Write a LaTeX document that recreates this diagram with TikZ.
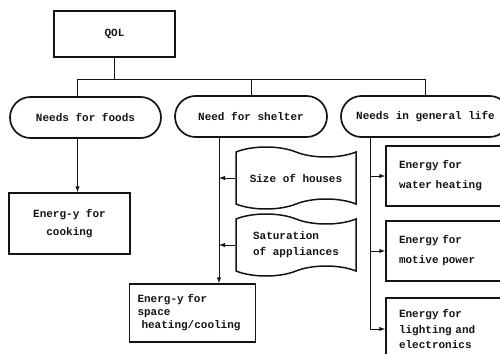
\documentclass[tikz,border=0pt]{standalone}
\usepackage{fontspec}
\setmonofont{Liberation Mono}
\usetikzlibrary{arrows.meta,shapes.misc,shapes.symbols}
\definecolor{QInk}{HTML}{141414}
\tikzset{
  wire/.style={QInk,line width=1pt},
  flow/.style={wire,-{Latex[length=6pt,width=4.5pt]}},
  txt/.style={text=QInk,font=\ttfamily\bfseries\fontsize{11}{14}\selectfont},
  box/.style={txt,draw=QInk,line width=1.5pt,inner sep=0pt,align=center},
  ebox/.style={box,align=left,text width=108pt,inner xsep=13pt},
  pill/.style={box,rounded rectangle,minimum width=151pt,minimum height=41pt,line width=1.7pt},
  doc/.style={box,tape,tape bend top=out and in,tape bend bottom=in and out,
              tape bend height=10pt,minimum width=120pt,minimum height=62pt,align=left},
}
\begin{document}
\begin{tikzpicture}[x=1pt,y=-1pt]
  \useasboundingbox (0,0) rectangle (500,353);
  \clip (0,0) rectangle (500,353);

  % top and the three needs
  \node[box,minimum width=121pt,minimum height=46pt] (qol) at (114.5,34) {QOL};
  \node[pill] (foods) at (85.5,117.5) {Needs for foods};
  \node[pill,minimum width=152pt] (shelter) at (251,116.5) {Need for shelter};
  \node[pill,minimum width=169pt] (life) at (425.5,116.5) {Needs in general life};

  % bus
  \coordinate (bus) at (0,79);
  \coordinate (fx) at ([xshift=-8pt]foods.north);
  \draw[wire] (qol.south) -- (qol.south |- bus);
  \draw[wire] (fx) -- (fx |- bus) -| (life.north);
  \draw[wire] (shelter.north) -- (shelter.north |- bus);

  % foods
  \node[box,minimum width=121pt,minimum height=61pt,
        font=\ttfamily\bfseries\fontsize{11}{18}\selectfont] (cook) at (69.5,223.5)
    {Energ-y for\\cooking};
  \coordinate (fy) at ([xshift=-8pt]foods.south);
  \draw[flow] (fy) -- (fy |- cook.north);

  % shelter
  \node[doc] (size) at (296,178) {Size of houses};
  \node[doc,font=\ttfamily\bfseries\fontsize{11}{16}\selectfont] (sat) at (296,245)
    {Saturation\\of appliances};
  \node[ebox,text width=110pt,inner xsep=8pt,minimum height=58pt,
        font=\ttfamily\bfseries\fontsize{11}{13}\selectfont] (heat) at (192.5,313)
    {Energ-y for\\space\\\hspace*{4pt}heating/cooling};
  \coordinate (sx) at ([xshift=-32pt]shelter.south);
  \draw[flow] (sx) -- (sx |- heat.north);
  \draw[flow] (size.west) -- (size.west -| sx);
  \draw[flow] (sat.west) -- (sat.west -| sx);

  % general life
  \node[ebox,minimum height=60pt,font=\ttfamily\bfseries\fontsize{11}{20}\selectfont]
    (water) at (453,176) {Energy for\\water heating};
  \node[ebox,minimum height=60pt,font=\ttfamily\bfseries\fontsize{11}{20}\selectfont]
    (motive) at (453,251) {Energy for\\motive power};
  \node[ebox,minimum height=62pt,font=\ttfamily\bfseries\fontsize{11}{15.5}\selectfont]
    (light) at (453,329) {Energy for\\lighting and\\electronics};
  \coordinate (lx) at ([xshift=-55pt]life.south);
  \draw[flow] (lx) |- (light.west);
  \draw[flow] (lx |- water.west) -- (water.west);
  \draw[flow] (lx |- motive.west) -- (motive.west);
\end{tikzpicture}
\end{document}
